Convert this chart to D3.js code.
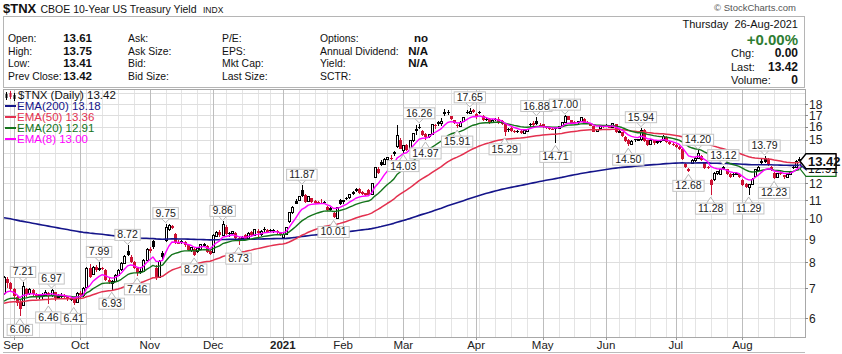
<!DOCTYPE html>
<html><head><meta charset="utf-8">
<script src="https://cdn.jsdelivr.net/npm/d3@7"></script>
<style>
body{margin:0;background:#fff}
svg{display:block}
text{font-family:"Liberation Sans",Arial,sans-serif;fill:#111}
</style>
</head><body>
<svg id="c" width="842" height="354"></svg>
<script>
// ---------- DATA ----------
const firstDay = "2020-08-27", lastDay = "2021-08-26";
const holidays = ["2020-09-07","2020-11-26","2020-12-25","2021-01-01","2021-01-18","2021-02-15","2021-04-02","2021-05-31","2021-07-05"];

const opens = [
 6.80,7.35,7.18,
 6.96,6.70,6.52,6.42,6.98,6.80,6.95,6.76,6.70,6.74,6.76,6.84,6.74,6.86,6.66,6.74,6.74,6.68,6.62,6.64,6.50,
 6.82,6.74,7.02,7.78,7.50,7.80,7.72,7.76,7.70,7.32,7.16,7.24,7.48,7.70,7.96,8.46,8.22,8.00,7.76,7.60,7.62,8.08,
 8.56,8.92,7.75,7.40,8.40,8.95,9.45,9.62,9.22,8.88,8.84,8.86,8.74,8.50,8.58,8.44,8.55,8.72,8.68,8.46,
 8.40,9.14,9.34,9.18,9.60,9.30,9.26,9.30,9.06,9.10,9.20,9.02,9.34,9.16,9.40,9.20,9.48,9.44,9.44,9.42,9.40,9.32,
 9.06,9.24,9.85,10.30,10.95,10.95,11.60,11.30,10.94,11.10,10.96,10.88,10.86,10.90,10.60,10.56,10.30,10.00,11.00,
 10.90,11.14,11.12,11.48,11.62,11.66,11.44,11.38,11.58,11.30,12.36,12.90,13.40,13.18,13.52,13.66,14.08,14.50,15.00,
 14.20,14.58,14.30,14.90,15.80,15.96,15.70,15.40,15.24,15.42,16.16,16.40,16.30,17.30,17.24,16.90,16.60,16.18,16.02,16.44,17.30,17.14,17.44,
 17.14,17.30,16.96,16.66,16.70,16.40,16.70,16.66,16.54,16.24,15.80,15.92,15.70,15.66,15.66,15.46,15.66,16.26,16.30,16.50,16.20,
 16.22,15.98,15.92,15.86,15.90,15.86,16.10,16.40,16.92,16.56,16.40,16.34,16.44,16.70,16.36,16.24,16.04,15.66,15.90,16.06,
 16.00,16.12,15.96,16.24,15.60,15.60,15.22,15.00,14.66,15.02,14.96,14.98,15.74,14.96,14.62,14.98,14.80,14.90,14.96,15.20,14.80,14.70,
 14.56,14.46,14.30,13.24,12.90,13.28,13.46,13.58,13.80,13.30,13.00,12.22,12.20,12.62,12.52,13.04,12.88,12.56,12.60,12.56,12.56,
 12.20,11.96,11.76,11.92,12.44,12.80,13.46,13.62,13.58,13.04,12.64,12.34,12.64,12.50,12.36,12.56,13.06,13.00,13.61
];
const highs = [
 7.45,7.40,7.24,
 7.00,6.76,6.58,7.21,7.00,7.02,6.98,6.84,6.80,6.84,6.92,6.86,6.97,6.88,6.78,6.82,6.80,6.72,6.70,6.66,6.88,
 6.90,7.05,7.82,7.92,7.86,7.88,7.99,7.82,7.72,7.40,7.30,7.52,7.74,8.02,8.28,8.72,8.28,8.06,7.82,7.80,8.12,8.60,
 8.64,8.96,7.90,8.10,8.48,9.75,9.72,9.66,9.28,8.98,8.98,8.90,8.80,8.66,8.62,8.62,8.80,8.82,8.72,8.50,
 9.24,9.38,9.42,9.86,9.66,9.36,9.40,9.34,9.12,9.16,9.26,9.34,9.40,9.50,9.46,9.42,9.58,9.50,9.50,9.48,9.44,9.36,
 9.30,9.60,10.36,10.68,11.06,11.26,11.87,11.34,11.24,11.14,11.00,10.94,11.08,10.96,10.66,10.60,10.34,10.62,11.04,
 11.02,11.18,11.36,11.52,11.68,11.70,11.50,11.42,11.62,12.02,13.04,13.06,13.52,13.62,13.72,13.86,14.16,16.20,15.10,
 14.62,14.64,15.00,15.52,16.20,16.26,15.74,15.52,15.42,16.24,16.24,16.50,16.76,17.54,17.48,16.96,16.62,16.24,16.48,16.82,17.46,17.65,17.50,
 17.20,17.40,17.04,16.80,16.74,16.64,16.78,16.80,16.60,16.30,15.92,16.06,15.76,15.74,15.72,15.80,15.86,16.34,16.50,16.88,16.32,
 16.28,16.08,16.00,15.96,15.96,16.08,16.44,17.00,16.96,16.62,16.48,16.52,16.82,16.74,16.52,16.30,16.08,15.84,16.18,16.12,
 16.26,16.18,16.34,16.28,15.74,15.62,15.26,15.08,14.94,15.08,15.06,15.94,15.82,15.00,15.06,15.00,14.94,14.96,15.32,15.24,14.90,14.78,
 14.66,14.50,14.40,13.30,12.96,13.60,13.70,14.20,13.84,13.34,13.08,12.26,12.68,12.80,12.92,13.12,12.92,12.62,12.66,12.70,12.60,
 12.24,12.00,11.96,12.30,12.92,13.10,13.56,13.79,13.64,13.08,12.68,12.66,12.76,12.54,12.62,12.78,13.14,13.52,13.75
];
const lows = [
 6.75,7.00,6.88,
 6.60,6.40,6.06,6.38,6.70,6.76,6.72,6.62,6.62,6.64,6.72,6.46,6.70,6.56,6.62,6.66,6.62,6.56,6.56,6.41,6.48,
 6.62,6.70,7.00,7.36,7.48,7.62,7.66,7.68,7.28,7.16,6.93,7.22,7.44,7.66,7.92,8.24,7.96,7.72,7.46,7.52,7.60,8.04,
 8.40,8.58,7.30,7.38,8.10,8.85,9.38,9.48,8.78,8.76,8.80,8.66,8.48,8.45,8.26,8.40,8.52,8.64,8.40,8.32,
 8.38,9.10,9.08,9.14,9.18,9.12,9.18,8.96,8.73,8.92,8.98,9.00,9.14,9.14,9.02,9.16,9.36,9.32,9.34,9.30,9.26,9.14,
 9.02,9.20,9.80,10.26,10.76,10.92,11.18,10.86,10.90,10.84,10.80,10.78,10.80,10.80,10.40,10.38,10.01,10.04,10.70,
 10.80,10.98,11.08,11.30,11.46,11.34,11.28,11.24,11.26,11.28,12.30,12.58,13.10,13.14,13.44,13.34,13.80,14.40,14.26,
 14.03,14.16,14.26,14.80,15.34,15.80,15.30,14.97,15.12,15.40,15.82,16.06,16.06,16.90,17.02,16.60,16.24,15.91,15.96,16.40,17.10,17.10,17.18,
 16.70,17.10,16.54,16.52,16.24,16.34,16.50,16.24,16.20,15.29,15.60,15.62,15.48,15.50,15.42,15.42,15.60,16.00,16.10,16.14,16.06,
 15.90,15.84,15.76,15.74,14.71,15.80,16.02,16.34,16.56,16.26,16.22,16.28,16.40,16.28,16.24,16.06,15.56,15.60,15.86,15.88,
 15.96,15.88,15.92,15.52,15.48,15.18,14.82,14.50,14.60,14.84,14.86,14.90,14.84,14.52,14.56,14.62,14.70,14.74,14.90,14.76,14.62,14.52,
 14.40,14.22,13.50,12.98,12.68,13.22,13.40,13.56,13.46,12.92,12.90,11.28,12.12,12.54,12.48,12.82,12.50,12.30,12.40,12.50,12.30,
 11.80,11.68,11.29,11.86,12.40,12.76,13.24,13.28,13.10,12.78,12.23,12.30,12.50,12.24,12.30,12.50,12.88,12.96,13.41
];
const closes = [
 7.38,7.20,6.98,
 6.72,6.50,6.28,7.05,6.80,6.96,6.78,6.70,6.74,6.78,6.86,6.72,6.92,6.66,6.72,6.76,6.68,6.62,6.64,6.50,6.82,
 6.76,6.98,7.76,7.42,7.80,7.70,7.76,7.74,7.32,7.22,7.24,7.46,7.68,7.95,8.24,8.32,8.02,7.78,7.56,7.62,8.08,8.55,
 8.48,8.64,7.40,8.02,8.22,9.55,9.66,9.54,8.82,8.80,8.88,8.72,8.52,8.62,8.32,8.56,8.74,8.76,8.44,8.36,
 9.18,9.32,9.20,9.72,9.24,9.28,9.36,9.04,8.96,9.02,9.00,9.28,9.18,9.44,9.30,9.36,9.46,9.36,9.40,9.42,9.34,9.18,
 9.24,9.55,10.30,10.60,10.80,11.20,11.24,10.90,11.18,10.90,10.86,10.84,10.82,10.86,10.44,10.46,10.06,10.58,10.76,
 10.96,11.04,11.32,11.36,11.50,11.40,11.36,11.30,11.28,11.96,12.98,12.66,13.14,13.56,13.66,13.62,13.90,15.28,14.32,
 14.58,14.20,14.96,15.46,15.70,15.92,15.36,15.22,15.36,16.18,16.08,16.22,16.44,17.08,17.20,16.70,16.30,16.04,16.40,16.76,17.20,17.36,17.24,
 16.80,17.18,16.60,16.62,16.30,16.58,16.64,16.30,16.28,15.60,15.74,15.66,15.56,15.60,15.48,15.72,15.80,16.20,16.18,16.24,16.12,
 16.00,15.92,15.84,15.80,15.86,16.00,16.36,16.90,16.62,16.34,16.30,16.46,16.76,16.34,16.28,16.10,15.62,15.76,16.08,15.96,
 16.12,15.94,16.26,15.58,15.62,15.24,14.90,14.66,14.86,14.98,15.00,15.72,14.92,14.60,14.96,14.74,14.86,14.88,15.24,14.80,14.70,14.58,
 14.46,14.28,13.56,13.04,12.76,13.50,13.62,13.98,13.52,12.98,12.96,11.86,12.62,12.72,12.86,12.88,12.56,12.36,12.52,12.62,12.36,
 11.86,11.76,11.90,12.22,12.86,13.02,13.30,13.40,13.18,12.84,12.32,12.60,12.56,12.36,12.56,12.70,12.96,13.42,13.42
];

// EMA overlays: periods, starting values at the first bar, legend values
const emaPeriods = [200, 50, 20, 8];
const emaStart = [10.05, 6.48, 6.55, 6.78];
const emaLegendValues = ["13.18", "13.36", "12.91", "13.00"];

// annotated highs / lows (dates)
const highLabelDates = ["2020-09-04","2020-09-18","2020-10-09","2020-10-22","2020-11-09","2020-12-04","2021-01-12","2021-03-08","2021-03-30","2021-04-29","2021-05-12","2021-06-16","2021-07-13","2021-07-23","2021-08-11"];
const lowLabelDates = ["2020-09-03","2020-09-17","2020-09-29","2020-10-15","2020-10-27","2020-11-20","2020-12-11","2021-01-27","2021-03-01","2021-03-10","2021-03-24","2021-04-15","2021-05-07","2021-06-10","2021-07-08","2021-07-19","2021-08-04","2021-08-16"];

const yTicks = [6,7,8,9,10,11,12,13,14,15,16,17,18];
const yGrid = [6,7,8,9,10,11,12,13,14,15,16,17,18,19];
const xTickLabels = ["Sep","Oct","Nov","Dec","2021","Feb","Mar","Apr","May","Jun","Jul","Aug"];

// header block
const quoteLabels1 = ["Open:","High:","Low:","Prev Close:"];
const quoteValues1 = ["13.61","13.75","13.41","13.42"];
const quoteLabels2 = ["Ask:","Ask Size:","Bid:","Bid Size:"];
const quoteLabels3 = ["P/E:","EPS:","Mkt Cap:","Last Size:"];
const quoteLabels4 = ["Options:","Annual Dividend:","Yield:","SCTR:"];
const quoteValues4 = ["no","N/A","N/A",""];
const sideLabels = ["Chg:","Last:","Volume:"];
const sideValues = ["0.00","13.42","0"];
const lastValue = "13.42";

// ---------- BUILD ----------
const fmt = d3.utcFormat("%Y-%m-%d");
const dates = [];
for (let d = new Date(firstDay + "T00:00:00Z"); fmt(d) <= lastDay; d = d3.utcDay.offset(d, 1)) {
  const wd = d.getUTCDay(), s = fmt(d);
  if (wd === 0 || wd === 6 || holidays.includes(s)) continue;
  dates.push(s);
}
const bars = dates.map((dt, i) => ({date: dt, o: opens[i], h: highs[i], l: lows[i], c: closes[i], pc: i ? closes[i-1] : opens[i]}));

const svg = d3.select("#c");
const P = {l: 3, r: 805, t: 89, b: 337};

const x = d3.scalePoint().domain(dates).range([4, 799.4]);
const y = d3.scaleLog().domain([6, 18]).range([318.3, 104]);

// ---------- HEADER ----------
svg.append("text").attr("x", 3).attr("y", 13).attr("font-size", 13).attr("font-weight", "bold").text("$TNX");
svg.append("text").attr("x", 40.5).attr("y", 13).attr("font-size", 10.5).text("CBOE 10-Year US Treasury Yield");
svg.append("text").attr("x", 203).attr("y", 13).attr("font-size", 8.5).text("INDX");
svg.append("text").attr("x", 796).attr("y", 11).attr("font-size", 9.5).attr("text-anchor", "end")
  .style("fill", "#555").text("\u00A9 StockCharts.com");

svg.append("rect").attr("x", 3.5).attr("y", 16.5).attr("width", 801).attr("height", 71)
  .attr("fill", "#fff").attr("stroke", "#b5b5b5");

const rowY = [42, 54.5, 67, 79.5];
const g1 = svg.append("g").attr("font-size", 10.4);
quoteLabels1.forEach((t, i) => g1.append("text").attr("x", 8).attr("y", rowY[i]).text(t));
quoteValues1.forEach((t, i) => g1.append("text").attr("x", 92).attr("y", rowY[i]).attr("text-anchor", "end")
  .attr("font-weight", "bold").attr("font-size", 11.5).text(t));
quoteLabels2.forEach((t, i) => g1.append("text").attr("x", 128).attr("y", rowY[i]).text(t));
quoteLabels3.forEach((t, i) => g1.append("text").attr("x", 222).attr("y", rowY[i]).text(t));
quoteLabels4.forEach((t, i) => g1.append("text").attr("x", 320).attr("y", rowY[i]).text(t));
quoteValues4.forEach((t, i) => g1.append("text").attr("x", 428).attr("y", rowY[i]).attr("text-anchor", "end")
  .attr("font-weight", "bold").attr("font-size", 11.5).text(t));

g1.append("text").attr("x", 798).attr("y", 28).attr("text-anchor", "end").attr("font-size", 11)
  .attr("xml:space", "preserve").text("Thursday  26-Aug-2021");
g1.append("text").attr("x", 798).attr("y", 45).attr("text-anchor", "end").attr("font-size", 15)
  .attr("font-weight", "bold").style("fill", "#2e7d32").text("+0.00%");
const sideY = [57, 70.5, 84];
sideLabels.forEach((t, i) => g1.append("text").attr("x", 731).attr("y", sideY[i]).attr("font-size", 11).text(t));
sideValues.forEach((t, i) => g1.append("text").attr("x", 798).attr("y", sideY[i]).attr("text-anchor", "end")
  .attr("font-weight", "bold").attr("font-size", 12).text(t));

// ---------- GRID ----------
const grid = svg.append("g");
const weekStarts = dates.filter((d, i) => i > 0 && d3.utcMonday.floor(new Date(d + "T00:00:00Z")).getTime() !==
  d3.utcMonday.floor(new Date(dates[i-1] + "T00:00:00Z")).getTime());
const monthStarts = dates.filter((d, i) => i > 0 && d.slice(0, 7) !== dates[i-1].slice(0, 7));
grid.selectAll(".wk").data(weekStarts.filter(d => !monthStarts.includes(d))).join("line")
  .attr("x1", d => Math.round(x(d)) + 0.5).attr("x2", d => Math.round(x(d)) + 0.5)
  .attr("y1", P.t).attr("y2", P.b).attr("stroke", "#e4e4e4");
grid.selectAll(".hz").data(yGrid).join("line")
  .attr("x1", P.l).attr("x2", P.r).attr("y1", d => Math.round(y(d)) + 0.5).attr("y2", d => Math.round(y(d)) + 0.5)
  .attr("stroke", "#dedede");
grid.selectAll(".mo").data(monthStarts).join("line")
  .attr("x1", d => Math.round(x(d)) + 0.5).attr("x2", d => Math.round(x(d)) + 0.5)
  .attr("y1", P.t).attr("y2", P.b).attr("stroke", "#bdbdbd");

svg.append("rect").attr("x", P.l + 0.5).attr("y", P.t + 0.5).attr("width", P.r - P.l).attr("height", P.b - P.t)
  .attr("fill", "none").attr("stroke", "#a8a8a8");
svg.append("line").attr("x1", P.l).attr("x2", P.r).attr("y1", 352.5).attr("y2", 352.5).attr("stroke", "#bbb");

// markers with visible text (used to hide covered tick labels)
const markerVals = [+lastValue, +emaLegendValues[2]];

// y axis labels
const ya = svg.append("g").attr("font-size", 12);
yTicks.forEach(v => {
  ya.append("line").attr("x1", P.r).attr("x2", P.r + 3).attr("y1", Math.round(y(v)) + 0.5).attr("y2", Math.round(y(v)) + 0.5).attr("stroke", "#888");
  if (markerVals.some(m => Math.abs(y(m) - y(v)) < 11)) return; // covered by value markers
  ya.append("text").attr("x", 809).attr("y", y(v) + 4.5).style("fill", "#222").text(v);
});
// x axis labels
const xa = svg.append("g").attr("font-size", 11.5);
monthStarts.forEach((d, i) => {
  xa.append("text").attr("x", x(d)).attr("y", 349).attr("text-anchor", "middle")
    .attr("font-weight", xTickLabels[i] === "2021" ? "bold" : null).style("fill", "#222").text(xTickLabels[i]);
  xa.append("line").attr("x1", Math.round(x(d)) + 0.5).attr("x2", Math.round(x(d)) + 0.5)
    .attr("y1", P.b).attr("y2", P.b + 3).attr("stroke", "#999");
});

// ---------- PLOT ----------
svg.append("clipPath").attr("id", "clip").append("rect").attr("x", P.l + 1).attr("y", P.t + 1)
  .attr("width", P.r - P.l - 1).attr("height", P.b - P.t - 1);
const plot = svg.append("g").attr("clip-path", "url(#clip)");

const RED = "#cc1133";
const cg = plot.append("g").attr("shape-rendering", "crispEdges");
bars.forEach(b => {
  const cx = Math.round(x(b.date));
  const col = b.c < b.pc ? RED : "#000";
  cg.append("line").attr("x1", cx + 0.5).attr("x2", cx + 0.5).attr("y1", y(b.h)).attr("y2", y(b.l))
    .attr("stroke", col).attr("stroke-width", 1);
  const top = y(Math.max(b.o, b.c)), bot = y(Math.min(b.o, b.c));
  const hgt = Math.max(1, bot - top);
  if (b.c > b.o) {
    cg.append("rect").attr("x", cx - 0.5).attr("y", top).attr("width", 2).attr("height", hgt)
      .attr("fill", "#fff").attr("stroke", col).attr("stroke-width", 1);
  } else {
    cg.append("rect").attr("x", cx - 1).attr("y", top).attr("width", 3).attr("height", hgt).attr("fill", col);
  }
});

// EMAs
const emaColors = ["#15158a", "#e3304f", "#13741a", "#ff00ff"];
const emaWidths = [1.6, 1.5, 1.4, 1.4];
const emas = emaPeriods.map((p, j) => {
  const k = 2 / (p + 1), out = [emaStart[j]];
  for (let i = 1; i < closes.length; i++) out.push(out[i-1] + k * (closes[i] - out[i-1]));
  return out;
});
const line = d3.line().x((d, i) => x(dates[i])).y(d => y(d));
emas.forEach((e, j) => plot.append("path").attr("d", line(e)).attr("fill", "none")
  .attr("stroke", emaColors[j]).attr("stroke-width", emaWidths[j]).attr("stroke-linejoin", "round"));

// annotations
const ann = svg.append("g").attr("font-size", 10.5);
function label(dt, v, isHigh) {
  const cx = x(dt), py = y(v);
  const t = ann.append("text").attr("text-anchor", "middle").style("fill", "#222").text(v.toFixed(2));
  const w = t.node().getComputedTextLength() + 5, h = 11;
  let bt, tip;
  if (isHigh) { bt = py - 5 - h; tip = py - 1; } else { bt = py + 8; tip = py + 2; }
  const edge = isHigh ? bt + h : bt;
  ann.insert("path", "text").attr("d", `M${cx - 4},${edge} L${cx},${tip} L${cx + 4},${edge}`)
    .attr("fill", "#fff").attr("stroke", "#b8b8b8");
  ann.insert("rect", "text").attr("x", cx - w / 2).attr("y", bt).attr("width", w).attr("height", h)
    .attr("fill", "#fff").attr("stroke", "#c4c4c4");
  t.attr("x", cx).attr("y", bt + 9);
}
highLabelDates.forEach(dt => label(dt, highs[dates.indexOf(dt)], true));
lowLabelDates.forEach(dt => label(dt, lows[dates.indexOf(dt)], false));

// legend
const lg = svg.append("g").attr("font-size", 11.5);
const legY0 = 99;
[[6, 92, 99, "#000"], [10, 91, 98, RED], [14, 93, 100, "#000"]].forEach(([ix, y1, y2, c]) => {
  lg.append("line").attr("x1", ix + 0.5).attr("x2", ix + 0.5).attr("y1", y1).attr("y2", y2 + 1).attr("stroke", c);
  lg.append("rect").attr("x", ix - 0.5).attr("y", y1 + 2).attr("width", 2).attr("height", 4).attr("fill", c);
});
lg.append("text").attr("x", 18).attr("y", legY0).text("$TNX (Daily) " + lastValue);
emaPeriods.forEach((p, j) => {
  const yy = legY0 + 11 * (j + 1);
  lg.append("line").attr("x1", 5).attr("x2", 16).attr("y1", yy - 4).attr("y2", yy - 4)
    .attr("stroke", emaColors[j]).attr("stroke-width", 2);
  lg.append("text").attr("x", 17).attr("y", yy).style("fill", emaColors[j]).text(`EMA(${p}) ${emaLegendValues[j]}`);
});

// right-edge value markers
function marker(v, col, txt, bold) {
  const yy = y(v), g = svg.append("g");
  g.append("path").attr("d", `M800,${yy} L806,${yy - 7.5} L836,${yy - 7.5} L836,${yy + 7.5} L806,${yy + 7.5} Z`)
    .attr("fill", "#fff").attr("stroke", col).attr("stroke-width", bold ? 1.4 : 1.2);
  if (txt) g.append("text").attr("x", 808).attr("y", yy + 4.5).attr("font-size", bold ? 13 : 12)
    .attr("font-weight", bold ? "bold" : null).style("fill", "#111").text(txt);
}
marker(+emaLegendValues[3], emaColors[3], null, false);
marker(+emaLegendValues[1], emaColors[1], null, false);
marker(+emaLegendValues[2], emaColors[2], emaLegendValues[2], false);
// navy arrow tip only
svg.append("path").attr("d", () => { const yy = y(+emaLegendValues[0]); return `M800,${yy} L806,${yy - 5} L806,${yy + 5} Z`; })
  .attr("fill", "#fff").attr("stroke", emaColors[0]).attr("stroke-width", 1.2);
marker(+lastValue, "#000", lastValue, true);
</script>
</body></html>
